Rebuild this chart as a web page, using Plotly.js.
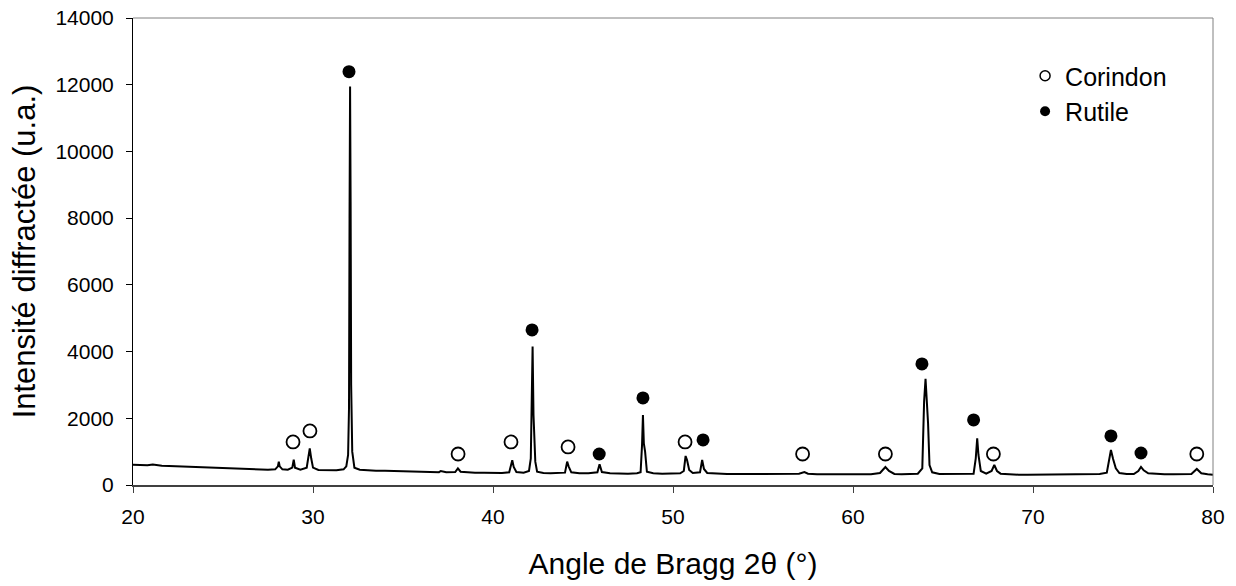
<!DOCTYPE html>
<html>
<head>
<meta charset="utf-8">
<script src="https://cdn.plot.ly/plotly-3.0.1.min.js"></script>
<style>html,body{margin:0;padding:0;background:#fff;}#chart{width:1236px;height:586px;}</style>
</head>
<body>
<div id="chart"></div>
<script>
// Diffractogram (2θ in degrees, intensity in a.u.)
const twoTheta = [
 20.0,20.4,20.8,21.1,21.3,21.6,22.0,22.5,23.0,23.5,24.0,24.5,25.0,25.5,26.0,26.5,27.0,27.5,27.9,
 28.05,28.1,28.15,28.3,28.6,28.85,28.93,29.0,29.3,29.65,29.75,29.82,29.9,30.0,30.3,30.8,31.3,31.7,
 31.85,31.95,32.0,32.03,32.06,32.09,32.12,32.18,32.3,32.6,33.0,33.5,34.0,34.5,35.0,35.5,36.0,36.5,
 37.0,37.1,37.4,37.9,38.05,38.2,38.6,39.0,39.5,40.0,40.5,40.9,41.0,41.07,41.15,41.3,41.7,42.0,42.1,
 42.15,42.2,42.25,42.3,42.35,42.45,42.8,43.2,43.6,44.0,44.12,44.2,44.35,44.8,45.3,45.8,45.92,46.05,
 46.5,47.0,47.5,48.0,48.2,48.28,48.33,48.38,48.45,48.55,48.9,49.4,49.9,50.4,50.6,50.7,50.78,50.9,
 51.1,51.5,51.62,51.72,51.9,52.4,53.0,53.5,54.0,54.5,55.0,55.5,56.0,56.5,57.0,57.3,57.5,58.0,58.5,
 59.0,59.5,60.0,60.5,61.0,61.5,61.8,62.0,62.3,62.7,63.2,63.6,63.85,63.95,64.03,64.1,64.17,64.25,
 64.4,64.8,65.3,65.8,66.3,66.7,66.82,66.9,66.97,67.1,67.4,67.7,67.85,68.0,68.2,68.7,69.2,69.7,70.2,
 70.7,71.2,71.7,72.2,72.7,73.2,73.7,74.1,74.28,74.33,74.45,74.6,74.8,75.2,75.6,75.85,76.0,76.15,
 76.4,76.8,77.3,77.8,78.3,78.8,79.1,79.35,79.7,80.0
];
const intensity = [
 610,600,590,615,600,575,570,560,545,540,525,515,500,495,480,470,465,460,470,
 560,700,560,470,460,520,760,520,460,520,800,1100,800,520,450,440,440,470,
 560,900,2300,8000,11950,8500,3000,1000,520,460,440,430,425,420,410,400,400,390,
 385,420,380,390,500,400,380,370,370,360,360,380,560,740,540,390,370,420,800,
 2000,4150,2100,1600,700,400,360,350,350,370,700,560,380,350,350,380,620,390,
 350,340,340,350,380,1200,2100,1250,1000,400,350,340,340,350,420,870,750,450,
 360,380,750,480,360,340,330,330,320,330,330,330,320,330,340,390,340,320,320,
 330,330,320,320,320,360,540,420,330,320,320,340,500,2500,3180,2600,1850,600,
 380,330,330,320,320,340,800,1400,900,420,340,420,600,420,340,320,310,310,310,
 320,310,310,320,320,320,330,370,900,1050,780,500,360,330,330,420,540,440,
 350,330,320,320,320,330,480,350,320,310
];
// Phase markers
const corindonX = [28.89,29.83,38.06,41.0,44.17,50.67,57.2,61.8,67.8,79.1];
const corindonY = [1290,1620,930,1290,1140,1290,930,930,930,930];
const rutileX = [32.0,42.17,45.9,48.33,51.67,63.83,66.7,74.33,76.0];
const rutileY = [12390,4650,930,2610,1350,3630,1950,1470,960];

const phaseNames = ['Corindon', 'Rutile'];
const xTicks = [20,30,40,50,60,70,80];
const yTicks = [0,2000,4000,6000,8000,10000,12000,14000];

const FONT = 'Arial, "Liberation Sans", sans-serif';

const traces = [
  {x: twoTheta, y: intensity, type: 'scatter', mode: 'lines',
   line: {color: '#000', width: 2}, showlegend: false, hoverinfo: 'skip'},
  {x: corindonX, y: corindonY, type: 'scatter', mode: 'markers', name: phaseNames[0],
   legendgroup: 'c', showlegend: false,
   marker: {symbol: 'circle-open', size: 13, color: '#000', line: {width: 1.8, color: '#000'}}},
  {x: rutileX, y: rutileY, type: 'scatter', mode: 'markers', name: phaseNames[1],
   legendgroup: 'r', showlegend: false,
   marker: {symbol: 'circle', size: 13, color: '#000'}},
  // legend entries (smaller symbols, as in the original key)
  {x: [null], y: [null], type: 'scatter', mode: 'markers', name: phaseNames[0], legendgroup: 'c',
   marker: {symbol: 'circle-open', size: 10, color: '#000', line: {width: 1.5, color: '#000'}}},
  {x: [null], y: [null], type: 'scatter', mode: 'markers', name: phaseNames[1], legendgroup: 'r',
   marker: {symbol: 'circle', size: 10, color: '#000'}}
];

const layout = {
  width: 1236, height: 586,
  margin: {l: 133, r: 23, t: 18, b: 101},
  paper_bgcolor: '#fff', plot_bgcolor: '#fff',
  font: {family: FONT, color: '#000'},
  showlegend: true,
  legend: {x: 0.826, y: 0.925, xanchor: 'left', yanchor: 'top', tracegroupgap: 0,
           font: {family: FONT, size: 25, color: '#000'}, bgcolor: 'rgba(0,0,0,0)'},
  xaxis: {
    range: [20, 80], tickvals: xTicks, ticktext: xTicks.map(String),
    showgrid: false, zeroline: false, showline: true, linecolor: '#404040', linewidth: 2,
    ticks: 'outside', ticklen: 6, tickcolor: '#404040', tickwidth: 1,
    tickfont: {family: FONT, size: 21, color: '#000'}, ticklabelstandoff: 6,
    title: {text: 'Angle de Bragg 2θ (°)', font: {family: FONT, size: 30, color: '#000'}, standoff: 26}
  },
  yaxis: {
    range: [0, 14000], tickvals: yTicks, ticktext: yTicks.map(String),
    showgrid: false, zeroline: false, showline: true, linecolor: '#000', linewidth: 1,
    ticks: 'outside', ticklen: 6, tickcolor: '#000', tickwidth: 1,
    tickfont: {family: FONT, size: 21, color: '#000'}, ticklabelstandoff: 8,
    title: {text: 'Intensité diffractée (u.a.)', font: {family: FONT, size: 31, color: '#000'}, standoff: 10}
  },
  shapes: [
    {type: 'line', xref: 'paper', yref: 'paper', x0: 0, x1: 1, y0: 1, y1: 1, line: {color: '#808080', width: 1}},
    {type: 'line', xref: 'paper', yref: 'paper', x0: 1, x1: 1, y0: 0, y1: 1, line: {color: '#808080', width: 1}}
  ]
};

Plotly.newPlot('chart', traces, layout, {staticPlot: true, displayModeBar: false});
</script>
</body>
</html>
